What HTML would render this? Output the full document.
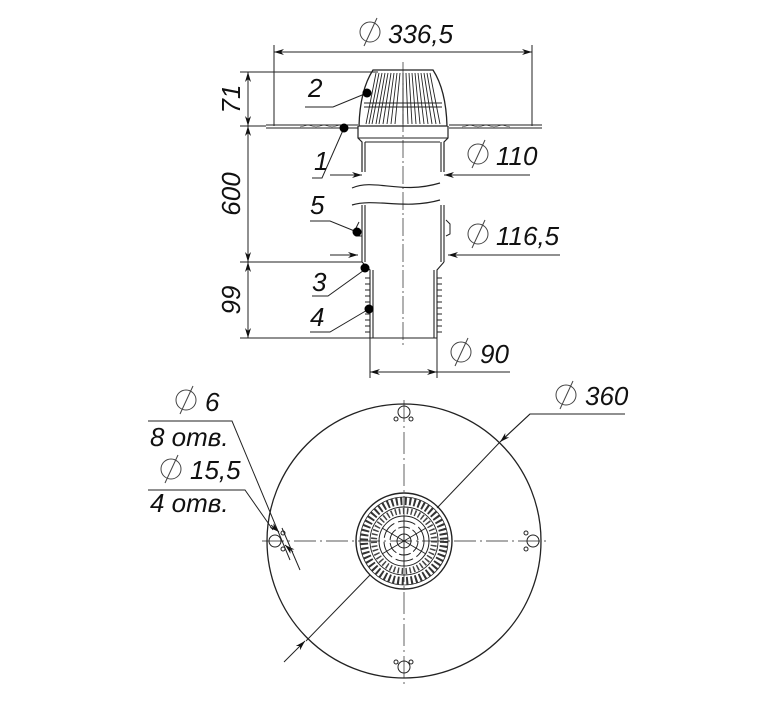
<!DOCTYPE html>
<html><head><meta charset="utf-8"><style>
html,body{margin:0;padding:0;background:#fff}
svg{display:block}
text{font-family:"Liberation Sans","DejaVu Sans",sans-serif;font-style:italic;fill:#111}
</style></head><body>
<svg width="781" height="718" viewBox="0 0 781 718" xmlns="http://www.w3.org/2000/svg">
<defs>
<marker id="a" viewBox="0 0 10 6" refX="10" refY="3" markerWidth="10" markerHeight="6" orient="auto-start-reverse" markerUnits="userSpaceOnUse"><path d="M0,0 L10,3 L0,6 L3,3z" fill="#111"/></marker>
</defs>
<g stroke="#222" stroke-width="1" fill="none">
<line x1="274" y1="52" x2="532" y2="52" marker-start="url(#a)" marker-end="url(#a)"/>
<line x1="274" y1="45" x2="274" y2="126"/>
<line x1="532" y1="45" x2="532" y2="126"/>
<line x1="240" y1="72" x2="378" y2="72"/>
<line x1="240" y1="126" x2="266" y2="126"/>
<line x1="240" y1="262" x2="362" y2="262"/>
<line x1="240" y1="338" x2="370" y2="338"/>
<line x1="248" y1="72" x2="248" y2="126" marker-start="url(#a)" marker-end="url(#a)"/>
<line x1="248" y1="126" x2="248" y2="262" marker-start="url(#a)" marker-end="url(#a)"/>
<line x1="248" y1="262" x2="248" y2="338" marker-start="url(#a)" marker-end="url(#a)"/>
<path d="M266,125 L358,125 M266,128 L358,128 M449,125 L542,125 M449,128 L542,128" stroke-width="0.9"/>
<path d="M300,127 l8,-2 l8,2 l8,-2 l8,2 l8,-2 l8,2 M462,127 l8,-2 l8,2 l8,-2 l8,2 l8,-2 l8,2" stroke-width="0.5"/>
<path d="M373,70 L433,70 Q446,90 447,126 L359,126 Q360,90 373,70z" stroke-width="1.3"/>
<line x1="364" y1="103" x2="442" y2="103"/>
<line x1="364" y1="107" x2="442" y2="107"/>
<g stroke-width="0.9">
<path d="M376,73 L366,124 M379,73 L369,124 M382,73 L372,124 M385,73 L376,124 M388,73 L379,124 M391,73 L383,124 M394,73 L387,124 M397,73 L391,124 M400,73 L395,124 M403,73 L403,124 M406,73 L408,124 M409,73 L412,124 M412,73 L416,124 M415,73 L420,124 M418,73 L424,124 M421,73 L428,124 M424,73 L432,124 M427,73 L436,124 M430,73 L440,124"/>
</g>
<path d="M358,126 L358,138 L362,142 L362,172 M448,126 L448,138 L444,142 L444,172" stroke-width="1.2"/>
<line x1="358" y1="138" x2="448" y2="138"/>
<line x1="365" y1="142" x2="440" y2="142"/>
<path d="M362,205 L362,262 M444,205 L444,262 M365,142 L365,172 M441,142 L441,172 M365,205 L365,262 M441,205 L441,262" stroke-width="1.1"/>
<path d="M352,188 C375,178 400,195 440,183 M352,205 C375,198 405,210 440,200" stroke-width="1.2"/>
<path d="M359,222 l-3,6 l0,8 l6,0 M446,220 l4,4 l0,10 l-4,2" />
<path d="M362,262 L370,270 L370,338 M444,262 L437,270 L437,338 M370,338 L437,338 M373,270 L373,338 M434,270 L434,338" stroke-width="1.1"/>
<path d="M365,278 h5 M365,284 h5 M365,290 h5 M365,296 h5 M365,302 h5 M365,308 h5 M365,314 h5 M365,320 h5 M365,326 h5 M365,332 h5 M437,278 h5 M437,284 h5 M437,290 h5 M437,296 h5 M437,302 h5 M437,308 h5 M437,314 h5 M437,320 h5 M437,326 h5 M437,332 h5" stroke-width="0.9"/>
<line x1="403" y1="62" x2="403" y2="345" stroke-dasharray="18,3,2,3" stroke-width="0.7"/>
<line x1="330" y1="175" x2="362" y2="175" marker-end="url(#a)"/>
<line x1="530" y1="175" x2="444" y2="175" marker-end="url(#a)"/>
<line x1="330" y1="255" x2="358" y2="255" marker-end="url(#a)"/>
<line x1="560" y1="255" x2="448" y2="255" marker-end="url(#a)"/>
<line x1="370" y1="338" x2="370" y2="378"/>
<line x1="437" y1="338" x2="437" y2="378"/>
<line x1="370" y1="372" x2="437" y2="372" marker-start="url(#a)" marker-end="url(#a)"/>
<line x1="437" y1="372" x2="510" y2="372"/>
<path d="M305,107 L333,107 L367,93"/>
<path d="M312,178 L322,178 L344,128"/>
<path d="M310,221 L330,221 L357,232"/>
<path d="M312,296 L328,296 L367,268"/>
<path d="M310,332 L330,332 L369,309"/>
</g>
<g fill="#000">
<circle cx="367" cy="93" r="4.5"/><circle cx="344" cy="128" r="4.5"/><circle cx="357" cy="232" r="4.5"/><circle cx="365" cy="268" r="4.5"/><circle cx="369" cy="309" r="4.5"/>
</g>
<g stroke="#444" stroke-width="1" fill="none">
<circle cx="370" cy="32" r="10"/><line x1="364" y1="46" x2="377" y2="18"/>
<circle cx="478" cy="154" r="10"/><line x1="472" y1="168" x2="485" y2="140"/>
<circle cx="478" cy="234" r="10"/><line x1="472" y1="248" x2="485" y2="220"/>
<circle cx="461" cy="352" r="10"/><line x1="455" y1="366" x2="468" y2="338"/>
<circle cx="566" cy="395" r="10"/><line x1="560" y1="409" x2="573" y2="381"/>
<circle cx="186" cy="400" r="10"/><line x1="180" y1="414" x2="193" y2="386"/>
<circle cx="171" cy="469" r="10"/><line x1="165" y1="483" x2="178" y2="455"/>
</g>
<g font-size="26">
<text x="388" y="43">336,5</text>
<text x="496" y="165">110</text>
<text x="496" y="245">116,5</text>
<text x="480" y="363">90</text>
<text x="585" y="405">360</text>
<text x="205" y="411">6</text>
<text x="190" y="479">15,5</text>
<text x="308" y="97">2</text>
<text x="314" y="170">1</text>
<text x="310" y="214">5</text>
<text x="312" y="291">3</text>
<text x="310" y="326">4</text>
<text x="150" y="446">8 отв.</text>
<text x="150" y="512">4 отв.</text>
<text transform="translate(240,99) rotate(-90)" text-anchor="middle">71</text>
<text transform="translate(240,194) rotate(-90)" text-anchor="middle">600</text>
<text transform="translate(240,300) rotate(-90)" text-anchor="middle">99</text>
</g>
<g stroke="#222" fill="none" stroke-width="1">
<circle cx="404" cy="541" r="137" stroke-width="1.3"/>
<line x1="262" y1="541" x2="550" y2="541" stroke-dasharray="22,4,2,4" stroke-width="0.7"/>
<line x1="404" y1="400" x2="404" y2="684" stroke-dasharray="22,4,2,4" stroke-width="0.7"/>
<circle cx="404" cy="541" r="48" stroke-width="1.4"/>
<circle cx="404" cy="541" r="44" stroke-width="0.8"/>
<circle cx="404" cy="541" r="40" stroke-width="8" stroke-dasharray="2,2.5" stroke="#333"/>
<circle cx="404" cy="541" r="34" stroke-width="0.9"/>
<circle cx="404" cy="541" r="30" stroke-width="6" stroke-dasharray="1.5,2.5" stroke="#444"/>
<circle cx="404" cy="541" r="25" stroke-width="1"/>
<circle cx="404" cy="541" r="20" stroke-width="1" stroke-dasharray="18,4"/>
<circle cx="404" cy="541" r="14" stroke-width="1" stroke-dasharray="12,3"/>
<circle cx="404" cy="541" r="7" stroke-width="1"/>
<path d="M404,516 V566 M382,528 L426,554 M382,554 L426,528" stroke-width="0.9"/>
<circle cx="404" cy="412" r="6"/><circle cx="396" cy="419" r="2"/><circle cx="411" cy="419" r="2"/>
<circle cx="404" cy="667" r="6"/><circle cx="396" cy="662" r="2"/><circle cx="411" cy="662" r="2"/>
<circle cx="533" cy="541" r="6"/><circle cx="526" cy="533" r="2"/><circle cx="526" cy="549" r="2"/>
<circle cx="275" cy="541" r="6"/><circle cx="283" cy="533" r="2"/><circle cx="283" cy="549" r="2"/>
<path d="M625,414 L530,414 L501,441"/>
<line x1="530" y1="414" x2="500" y2="442" marker-end="url(#a)"/>
<line x1="437" y1="508" x2="500" y2="442"/>
<line x1="370" y1="575" x2="306" y2="641"/>
<line x1="284" y1="662" x2="305" y2="641" marker-end="url(#a)"/>
<path d="M148,421 L232,421 L290,560"/>
<path d="M148,490 L245,490 L273,530"/>
<line x1="279" y1="532" x2="271" y2="525" marker-start="url(#a)"/>
<line x1="285" y1="545" x2="293" y2="552" marker-start="url(#a)"/>
<line x1="282" y1="528" x2="300" y2="570"/>
</g>
</svg>
</body></html>
